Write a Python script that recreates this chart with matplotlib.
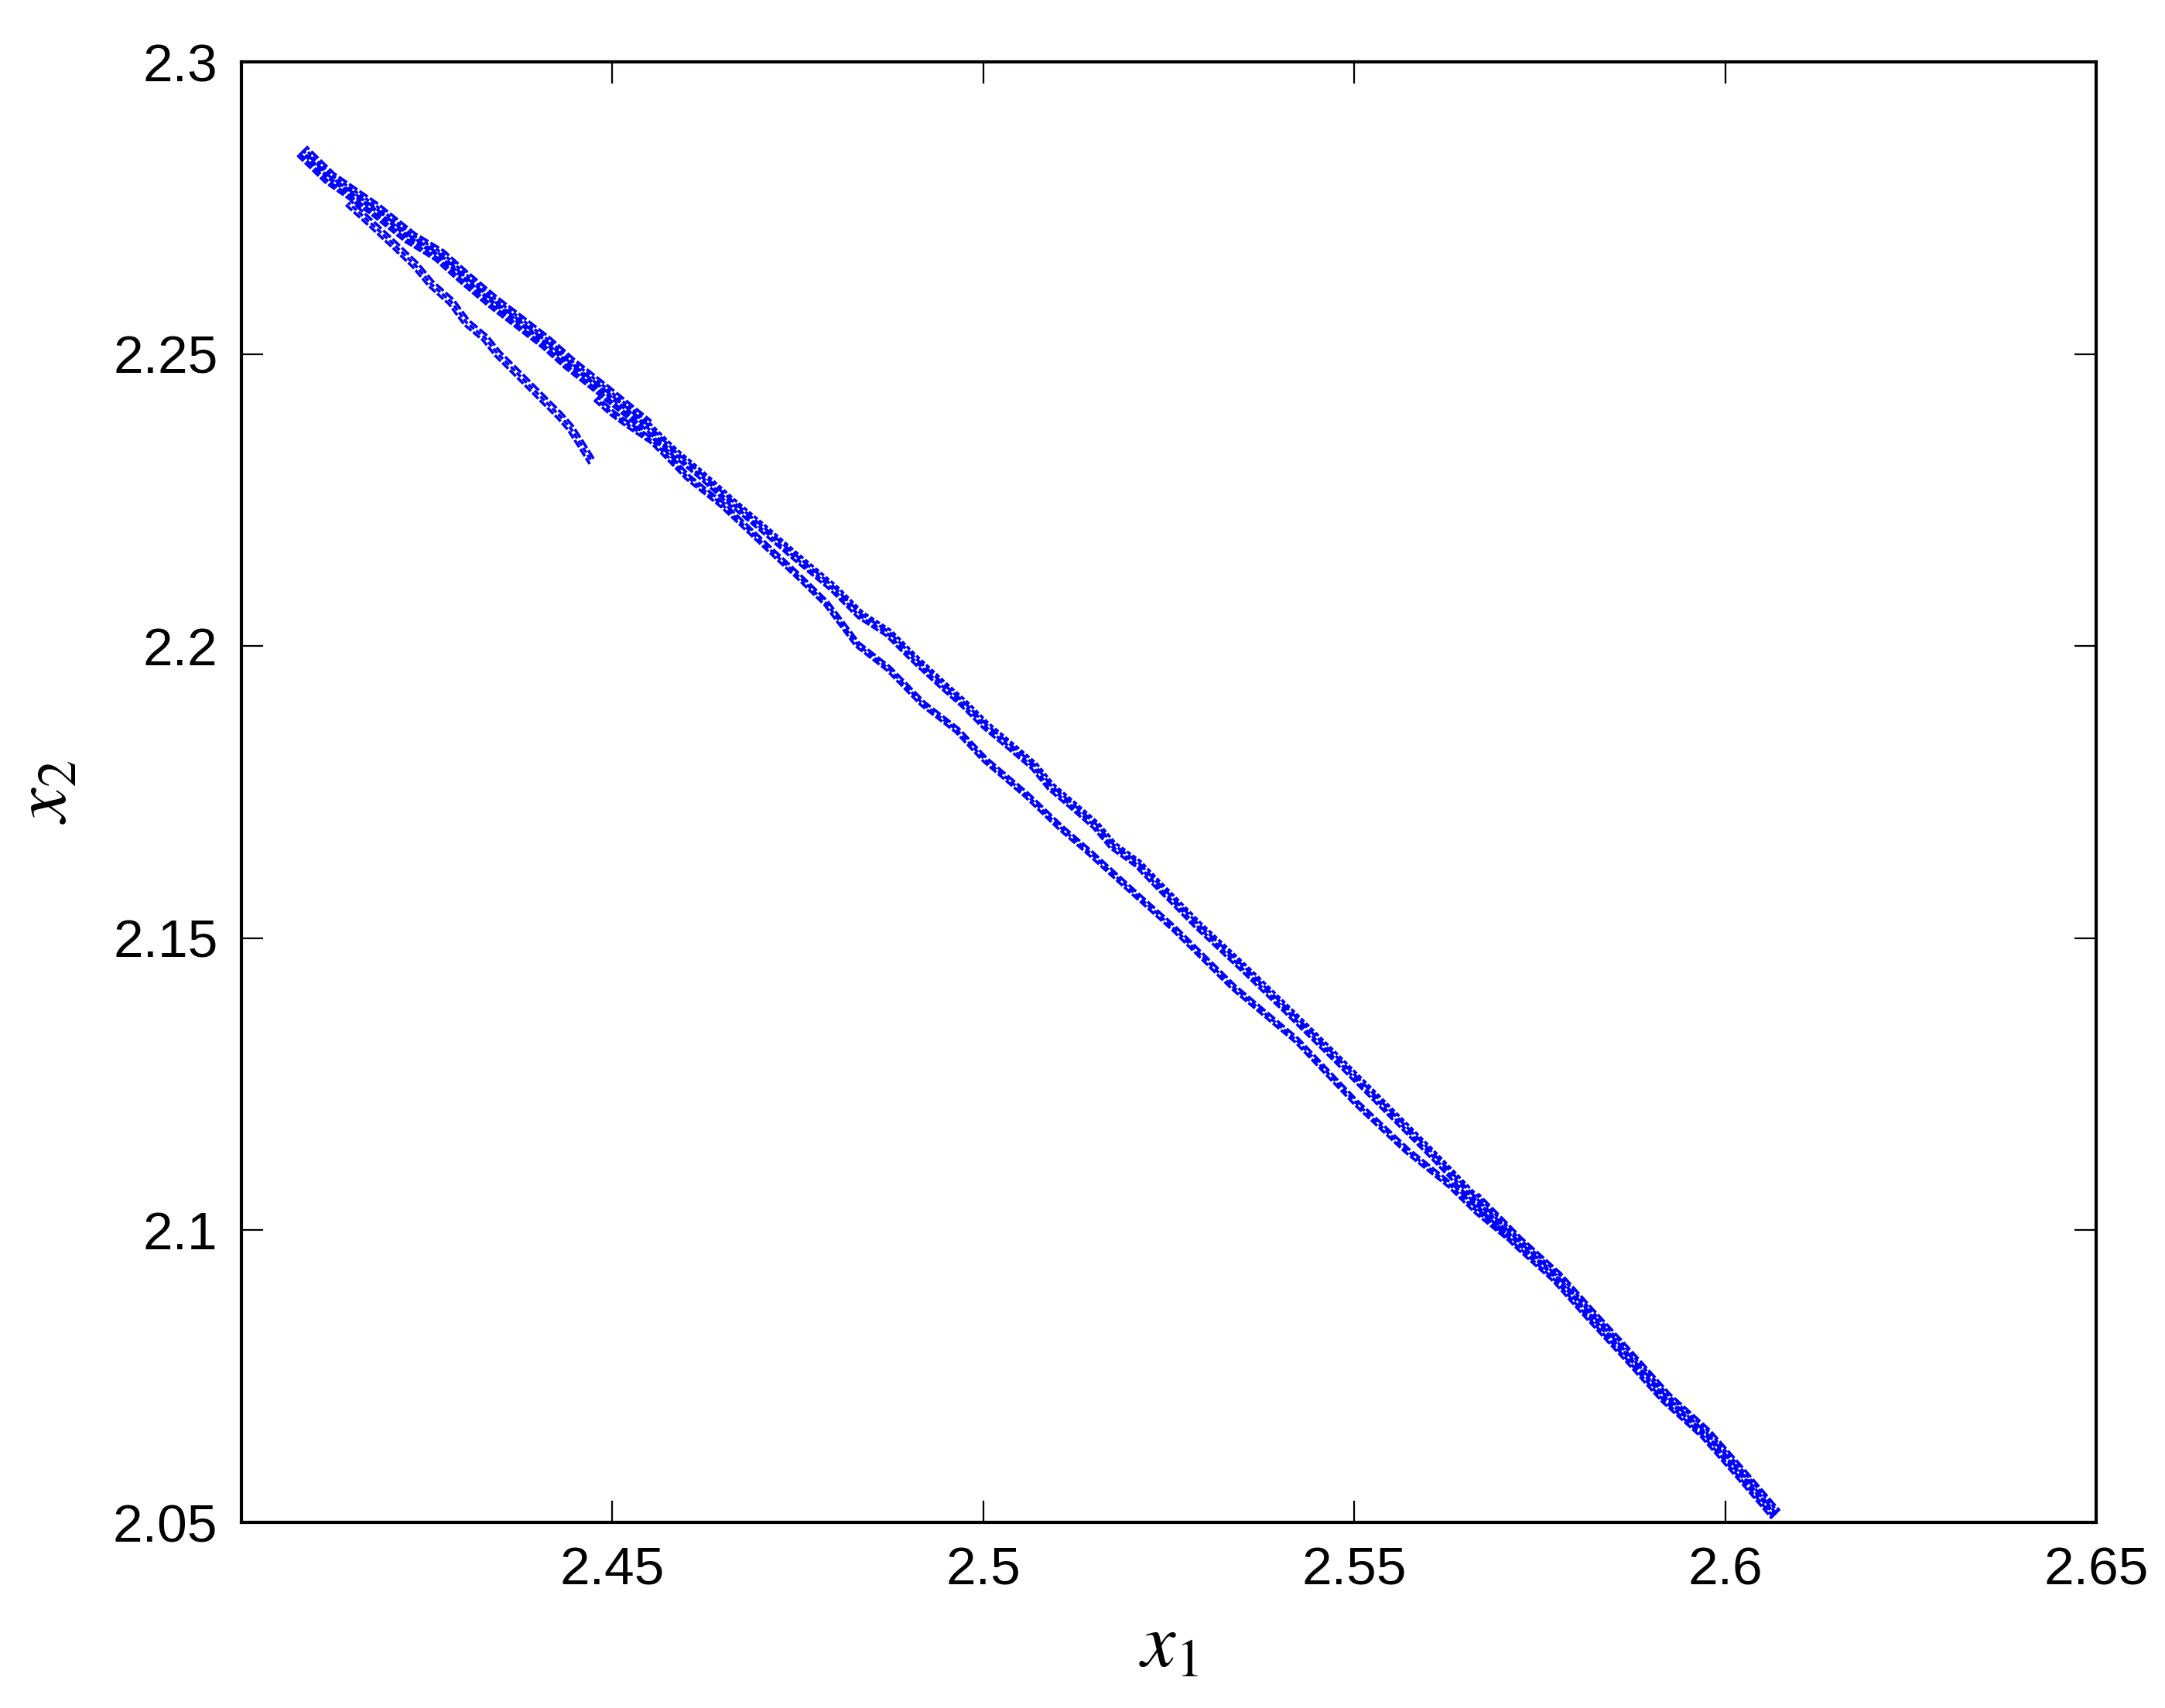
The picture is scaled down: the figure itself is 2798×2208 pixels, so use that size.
import matplotlib
matplotlib.use("Agg")
import matplotlib.pyplot as plt
from matplotlib.transforms import offset_copy

plt.rcParams['mathtext.fontset'] = 'stix'

# ---- data ----
upper_x = [2.40814, 2.41189, 2.41794, 2.42274, 2.42670, 2.42983, 2.43390, 2.43703,
           2.44109, 2.44422, 2.44860, 2.45465, 2.45830, 2.46164, 2.46623, 2.47092,
           2.47416, 2.47979, 2.48344, 2.48719, 2.49043, 2.49470, 2.49742, 2.50023,
           2.50347, 2.50680, 2.50910, 2.51192, 2.51515, 2.51744, 2.52078, 2.52307,
           2.52892, 2.53528, 2.54112, 2.54759, 2.55395, 2.56031, 2.56615, 2.57199,
           2.57731, 2.58159, 2.58670, 2.59202, 2.59734, 2.60255, 2.60683]
upper_y = [2.28477, 2.28014, 2.27484, 2.26994, 2.26690, 2.26332, 2.25895, 2.25590,
           2.25193, 2.24836, 2.24399, 2.23776, 2.23326, 2.22968, 2.22452, 2.21949,
           2.21591, 2.20995, 2.20532, 2.20227, 2.19817, 2.19314, 2.19009, 2.18651,
           2.18307, 2.17950, 2.17592, 2.17288, 2.16930, 2.16586, 2.16281, 2.15977,
           2.15222, 2.14467, 2.13752, 2.12944, 2.12137, 2.11329, 2.10561, 2.09806,
           2.09197, 2.08588, 2.07886, 2.07131, 2.06522, 2.05767, 2.05131]

lower_x = [2.44777, 2.44986, 2.45226, 2.45538, 2.45778, 2.46018, 2.46487, 2.47040,
           2.47510, 2.47885, 2.48302, 2.48719, 2.49189, 2.49648, 2.50023, 2.50587,
           2.51045, 2.51421, 2.51984, 2.52568, 2.53371, 2.54227, 2.55019, 2.55708,
           2.56292, 2.56667, 2.57084]
lower_y = [2.24240, 2.24001, 2.23776, 2.23511, 2.23207, 2.22889, 2.22412, 2.21750,
           2.21194, 2.20731, 2.20029, 2.19618, 2.19009, 2.18559, 2.18056, 2.17447,
           2.16890, 2.16480, 2.15831, 2.15169, 2.14162, 2.13249, 2.12189, 2.11368,
           2.10773, 2.10309, 2.09872]

branch_x = [2.41439, 2.41784, 2.42065, 2.42347, 2.42555, 2.42827, 2.43035, 2.43285,
            2.43452, 2.43661, 2.43870, 2.44078, 2.44287, 2.44433, 2.44568, 2.44725]
branch_y = [2.27590, 2.27193, 2.26862, 2.26517, 2.26200, 2.25895, 2.25538, 2.25273,
            2.25008, 2.24743, 2.24478, 2.24213, 2.23948, 2.23737, 2.23472, 2.23154]

x_ticks = [2.45, 2.5, 2.55, 2.6, 2.65]
x_ticklabels = ["2.45", "2.5", "2.55", "2.6", "2.65"]
y_ticks = [2.05, 2.1, 2.15, 2.2, 2.25, 2.3]
y_ticklabels = ["2.05", "2.1", "2.15", "2.2", "2.25", "2.3"]

# ---- figure ----
DPI = 200
fig = plt.figure(figsize=(2798 / DPI, 2208 / DPI), dpi=DPI)
ax = fig.add_axes([312 / 2798, 1 - 1968 / 2208, (2709 - 312) / 2798, (1968 - 80) / 2208])

blue = (0, 0, 1)
lw = 1.3
dash_sets = [(0, (3.0, 0.8)), (1.0, (2.0, 1.0)), (2.0, (3.5, 1.0)),
             (0.5, (1.6, 0.8)), (1.5, (2.8, 1.2))]


def draw_strand(xs, ys, offsets, width=lw):
    for i, off in enumerate(offsets):
        tr = offset_copy(ax.transData, fig=fig, x=off * 0.7071, y=off * 0.7071, units='dots')
        ax.plot(xs, ys, color=blue, lw=width, linestyle=dash_sets[i % len(dash_sets)],
                transform=tr, dash_capstyle='butt')


draw_strand(upper_x, upper_y, [-4.5, -1.5, 1.5, 4.5])
draw_strand(upper_x[:12], upper_y[:12], [-8, 0, 8])
draw_strand(upper_x[38:], upper_y[38:], [-7, 0, 7])
draw_strand(lower_x, lower_y, [-3, 0, 3])
draw_strand(branch_x, branch_y, [-4, 0, 4])

ax.set_xlim(2.4, 2.65)
ax.set_ylim(2.05, 2.3)
ax.set_xticks(x_ticks)
ax.set_xticklabels(x_ticklabels)
ax.set_yticks(y_ticks)
ax.set_yticklabels(y_ticklabels)

for s in ax.spines.values():
    s.set_linewidth(1.5)
    s.set_color('black')

ax.tick_params(direction='in', length=10, width=0.8, top=True, right=True,
               labelsize=25, pad=11, colors='black')
for lab in ax.get_xticklabels() + ax.get_yticklabels():
    lab.set_family(['Liberation Sans', 'DejaVu Sans'])

ax.set_xlabel(r'$x_1$', fontsize=36, labelpad=6)
ax.set_ylabel(r'$x_2$', fontsize=36, labelpad=14)

fig.savefig('out.png', dpi=DPI, facecolor='white')
